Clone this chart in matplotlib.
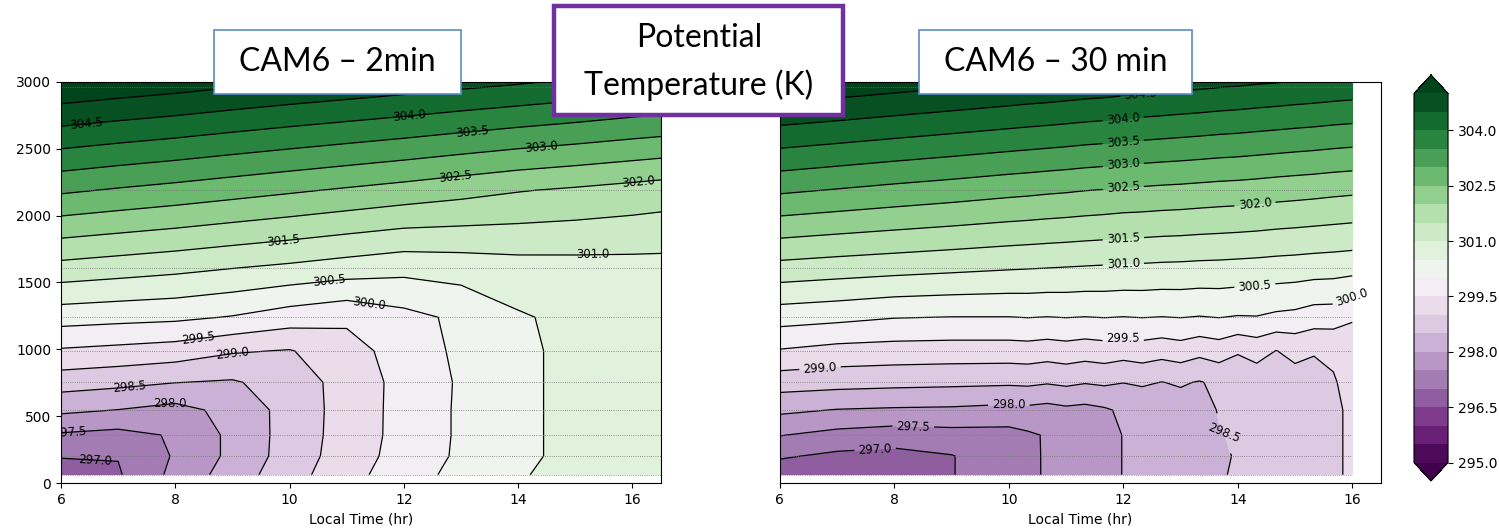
import numpy as np
import matplotlib
matplotlib.use("Agg")
import matplotlib.pyplot as plt
from matplotlib.patches import Rectangle

# model level heights (m); the last row is the top of the plotted column
heights = [62, 202, 359, 546, 753, 988, 1240, 1612, 2190, 2965, 3000]

# 2 min time step run, hourly output
times_2min = [6, 7, 8, 9, 10, 11, 12, 13, 14, 15, 16, 16.5]
theta_2min = [
    [296.70, 296.95, 297.64, 298.24, 298.80, 299.32, 299.78, 300.15, 300.46, 300.65, 300.75, 300.80],
    [297.04, 297.02, 297.55, 298.12, 298.72, 299.24, 299.70, 300.08, 300.42, 300.60, 300.70, 300.75],
    [297.44, 297.35, 297.55, 298.12, 298.70, 299.21, 299.67, 300.07, 300.42, 300.60, 300.70, 300.74],
    [298.10, 297.99, 297.84, 298.15, 298.69, 299.20, 299.67, 300.07, 300.42, 300.60, 300.70, 300.74],
    [298.72, 298.63, 298.51, 298.45, 298.72, 299.20, 299.66, 300.06, 300.42, 300.60, 300.70, 300.74],
    [299.44, 299.36, 299.27, 299.05, 298.97, 299.30, 299.72, 300.10, 300.42, 300.60, 300.70, 300.74],
    [300.21, 300.15, 300.10, 299.97, 299.75, 299.60, 299.85, 300.10, 300.45, 300.62, 300.70, 300.75],
    [301.34, 301.24, 301.14, 301.02, 300.91, 300.78, 300.66, 300.72, 300.80, 300.82, 300.83, 300.83],
    [303.08, 302.95, 302.83, 302.70, 302.57, 302.44, 302.31, 302.17, 302.03, 301.93, 301.82, 301.76],
    [305.38, 305.26, 305.15, 305.02, 304.90, 304.79, 304.68, 304.56, 304.45, 304.33, 304.20, 304.15],
    [305.48, 305.36, 305.25, 305.12, 305.00, 304.89, 304.78, 304.66, 304.55, 304.43, 304.30, 304.25],
]

# 30 min time step run
times_30min = [6, 7, 8, 9, 10, 10.33, 10.67, 11, 11.33, 11.67, 12, 12.33, 12.67,
               13, 13.33, 13.67, 14, 14.33, 14.67, 15, 15.33, 15.67, 16]
theta_30min = [
    [296.70, 296.75, 296.80, 296.98, 297.31, 297.42, 297.54, 297.66, 297.77, 297.89, 298.01, 298.09,
     298.19, 298.28, 298.37, 298.46, 298.55, 298.63, 298.71, 298.79, 298.87, 298.95, 299.05],
    [297.06, 296.90, 296.85, 296.98, 297.31, 297.42, 297.54, 297.66, 297.77, 297.89, 298.01, 298.09,
     298.19, 298.28, 298.37, 298.46, 298.52, 298.63, 298.71, 298.79, 298.87, 298.95, 299.05],
    [297.52, 297.35, 297.25, 297.32, 297.33, 297.43, 297.54, 297.66, 297.77, 297.89, 298.01, 298.09,
     298.19, 298.28, 298.37, 298.48, 298.55, 298.63, 298.71, 298.79, 298.87, 298.95, 299.05],
    [298.10, 297.98, 297.94, 297.92, 297.85, 297.88, 297.83, 297.90, 297.86, 297.94, 298.08, 298.12,
     298.19, 298.28, 298.37, 298.52, 298.57, 298.63, 298.71, 298.79, 298.87, 298.95, 299.05],
    [298.73, 298.68, 298.64, 298.61, 298.58, 298.60, 298.54, 298.60, 298.53, 298.58, 298.51, 298.57,
     298.49, 298.55, 298.47, 298.60, 298.62, 298.72, 298.72, 298.82, 298.90, 298.97, 299.12],
    [299.46, 299.33, 299.29, 299.27, 299.27, 299.29, 299.24, 299.29, 299.23, 299.28, 299.21, 299.27,
     299.19, 299.27, 299.14, 299.24, 299.05, 299.18, 298.99, 299.12, 299.02, 299.06, 299.22],
    [300.21, 300.13, 300.02, 299.99, 299.99, 300.01, 299.99, 300.01, 299.99, 300.01, 299.99, 300.01,
     299.99, 300.01, 299.98, 300.01, 299.97, 299.98, 299.90, 299.86, 299.75, 299.74, 299.55],
    [301.34, 301.26, 301.19, 301.12, 301.05, 301.03, 301.01, 300.99, 300.97, 300.95, 300.93, 300.92,
     300.90, 300.89, 300.87, 300.86, 300.84, 300.82, 300.79, 300.77, 300.74, 300.72, 300.69],
    [303.08, 302.97, 302.86, 302.76, 302.65, 302.62, 302.58, 302.55, 302.51, 302.48, 302.44, 302.42,
     302.39, 302.37, 302.34, 302.31, 302.29, 302.26, 302.22, 302.19, 302.16, 302.12, 302.09],
    [305.35, 305.25, 305.14, 305.03, 304.92, 304.88, 304.85, 304.81, 304.77, 304.74, 304.70, 304.66,
     304.63, 304.59, 304.56, 304.52, 304.49, 304.45, 304.42, 304.38, 304.35, 304.31, 304.28],
    [305.45, 305.35, 305.24, 305.13, 305.02, 304.98, 304.95, 304.91, 304.87, 304.84, 304.80, 304.76,
     304.73, 304.69, 304.66, 304.62, 304.59, 304.55, 304.52, 304.48, 304.45, 304.41, 304.38],
]

levels = np.arange(295.0, 305.01, 0.5)
cbar_ticks = [295.0, 296.5, 298.0, 299.5, 301.0, 302.5, 304.0]

fig = plt.figure(figsize=(14.99, 5.32), dpi=100)
ax1 = fig.add_axes([0.0407, 0.0921, 0.4003, 0.7538])
ax2 = fig.add_axes([0.5203, 0.0921, 0.4009, 0.7538])
cax = fig.add_axes([0.9433, 0.0959, 0.0227, 0.7632])


def draw_panel(ax, times, theta, inline, spots):
    cf = ax.contourf(times, heights, theta, levels=levels, cmap="PRGn", extend="both")
    cs = ax.contour(times, heights, theta, levels=levels, colors="k", linewidths=0.9)
    ax.clabel(cs, fmt="%.1f", fontsize=8.5, inline=inline, manual=spots)
    # dotted lines on the model levels
    ax.hlines(heights[:-1], times[0], times[-1], colors="0.45", linestyles=":", linewidth=0.6)
    ax.set_xlim(6, 16.5)
    ax.set_ylim(0, 3000)
    ax.set_xticks(range(6, 17, 2))
    ax.set_xlabel("Local Time (hr)", fontsize=10)
    ax.tick_params(labelsize=10)
    return cf, cs


spots_2min = [(6.45, 2680), (12.1, 2735), (13.2, 2635), (14.4, 2506), (12.9, 2267),
              (16.1, 2267), (9.9, 1800), (15.3, 1720), (10.7, 1511), (11.4, 1369),
              (8.4, 1070), (9.0, 950), (7.2, 718), (7.9, 606), (6.15, 370), (6.6, 185)]
spots_30min = [(12.3, 2905), (12.0, 2718), (12.0, 2551), (12.0, 2381), (12.0, 2212),
               (14.3, 2087), (12.0, 1833), (12.0, 1641), (14.3, 1459), (16.0, 1390),
               (12.0, 1070), (6.7, 860), (10.0, 610), (8.33, 434), (7.66, 272), (13.8, 380)]

cf, cs1 = draw_panel(ax1, times_2min, theta_2min, False, spots_2min)
ax1.set_yticks(range(0, 3001, 500))
cf2, cs2 = draw_panel(ax2, times_30min, theta_30min, True, spots_30min)
ax2.tick_params(left=False, labelleft=False)
for t in cs2.labelTexts:
    if t.get_text() == "298.5":
        t.set_rotation(-22)

cb = fig.colorbar(cf, cax=cax, ticks=cbar_ticks)
cb.ax.yaxis.set_major_formatter("{x:.1f}")
cb.ax.tick_params(labelsize=10)

W, H = 1499, 532


def box(x0, y0, x1, y1, edge, lw):
    fig.add_artist(Rectangle((x0 / W, 1 - y1 / H), (x1 - x0) / W, (y1 - y0) / H,
                             transform=fig.transFigure, facecolor="white",
                             edgecolor=edge, linewidth=lw, zorder=5))


def label(x, y, s):
    fig.text(x / W, 1 - y / H, s, ha="center", va="center", fontsize=23,
             family="Lato", zorder=6)


box(214, 30, 461, 94, "#5b8cc8", 1.2)
label(337, 62, "CAM6 – 2min")
box(554, 6, 843, 115, "#7030a0", 3.2)
label(699, 38, "Potential")
label(699, 85, "Temperature (K)")
box(919, 30, 1192, 94, "#5b8cc8", 1.2)
label(1056, 62, "CAM6 – 30 min")

fig.savefig("out.png", dpi=100)
